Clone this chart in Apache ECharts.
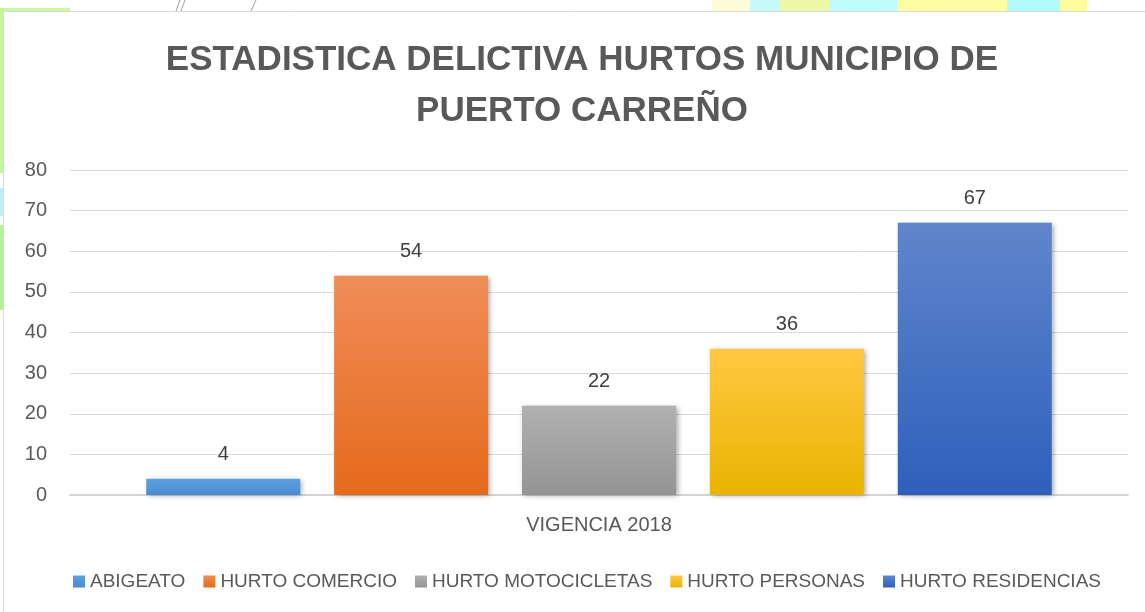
<!DOCTYPE html>
<html>

<head>
	<meta charset="utf-8">
	<title>Estadistica delictiva hurtos</title>
	<script src="https://cdn.jsdelivr.net/npm/echarts@6/dist/echarts.min.js"></script>
	<style>
		html, body { margin: 0; padding: 0; background: #fff; }
	</style>
</head>

<body>
	<div id="main" style="width: 1145px;height:612px;"></div>

	<script type="text/javascript">
		var categorias = ['VIGENCIA 2018'];
		var delitos = ['ABIGEATO', 'HURTO COMERCIO', 'HURTO MOTOCICLETAS', 'HURTO PERSONAS', 'HURTO RESIDENCIAS'];
		var valores = [4, 54, 22, 36, 67];
		var ejeY = [0, 10, 20, 30, 40, 50, 60, 70, 80];

		// colores arriba / abajo de cada barra (degradado)
		var coloresArriba = ['#5EA2DF', '#F08D58', '#B1B1B1', '#FFC843', '#6085CC'];
		var coloresAbajo = ['#4A8AD0', '#E56A1C', '#949494', '#E9B400', '#2E60BB'];
		var coloresLeyenda = ['#5597D8', '#EE7A2D', '#A3A3A3', '#FDC010', '#4470C4'];

		var myChart = echarts.init(document.getElementById('main'));

		var series = delitos.map(function (nombre, i) {
			return {
				name: nombre,
				type: 'bar',
				barWidth: 154,
				barGap: '22%',
				data: [valores[i]],
				itemStyle: {
					color: new echarts.graphic.LinearGradient(0, 0, 0, 1, [
						{ offset: 0, color: coloresArriba[i] },
						{ offset: 1, color: coloresAbajo[i] }
					]),
					shadowColor: 'rgba(0,0,0,0.35)',
					shadowBlur: 5,
					shadowOffsetX: 2,
					shadowOffsetY: 1
				},
				label: {
					show: true,
					position: 'top',
					distance: 14,
					color: '#404040',
					fontSize: 20,
					fontFamily: 'Liberation Sans'
				}
			};
		});

		var option = {
			animation: false,
			backgroundColor: '#fff',
			color: coloresLeyenda,
			title: {
				text: 'ESTADISTICA DELICTIVA HURTOS MUNICIPIO DE\nPUERTO CARREÑO',
				left: 582,
				textAlign: 'center',
				top: 35,
				padding: 0,
				textStyle: {
					color: '#595959',
					fontSize: 35,
					fontWeight: 'bold',
					fontFamily: 'Liberation Sans',
					lineHeight: 51
				}
			},
			graphic: [
				// fondo decorativo fuera del recuadro del grafico
				{ type: 'rect', z: -10, shape: { x: 712, y: 0, width: 40, height: 12 }, style: { fill: '#FDFDD8' } },
				{ type: 'rect', z: -10, shape: { x: 750, y: 0, width: 32, height: 12 }, style: { fill: '#C4FAFA' } },
				{ type: 'rect', z: -10, shape: { x: 780, y: 0, width: 50, height: 12 }, style: { fill: '#EEF9A8' } },
				{ type: 'rect', z: -10, shape: { x: 830, y: 0, width: 67, height: 12 }, style: { fill: '#BDFCFC' } },
				{ type: 'rect', z: -10, shape: { x: 897, y: 0, width: 110, height: 12 }, style: { fill: '#FDFDA4' } },
				{ type: 'rect', z: -10, shape: { x: 1007, y: 0, width: 53, height: 12 }, style: { fill: '#B2FBFB' } },
				{ type: 'rect', z: -10, shape: { x: 1060, y: 0, width: 27, height: 12 }, style: { fill: '#FDFD9C' } },
				{ type: 'rect', z: -10, shape: { x: 0, y: 8, width: 70, height: 4 }, style: { fill: '#CDF5A8' } },
				{ type: 'rect', z: -10, shape: { x: 0, y: 8, width: 4, height: 165 }, style: { fill: '#C6F5A0' } },
				{ type: 'rect', z: -10, shape: { x: 0, y: 188, width: 4, height: 28 }, style: { fill: '#C0EEF8' } },
				{ type: 'rect', z: -10, shape: { x: 0, y: 225, width: 4, height: 85 }, style: { fill: '#B8F09A' } },
				{ type: 'line', z: -10, shape: { x1: 176, y1: 11, x2: 180, y2: 0 }, style: { stroke: '#A0A0A0', lineWidth: 1 } },
				{ type: 'line', z: -10, shape: { x1: 181, y1: 11, x2: 185, y2: 0 }, style: { stroke: '#A0A0A0', lineWidth: 1 } },
				{ type: 'line', z: -10, shape: { x1: 251, y1: 11, x2: 256, y2: 0 }, style: { stroke: '#A0A0A0', lineWidth: 1 } },
				// recuadro del grafico
				{ type: 'rect', z: -5, shape: { x: 3.5, y: 11.5, width: 1160, height: 620 }, style: { fill: '#fff', stroke: '#D9D9D9', lineWidth: 1 } }
			],
			legend: {
				data: delitos,
				left: 68,
				top: 567,
				itemWidth: 12,
				itemHeight: 12,
				itemGap: 18,
				icon: 'rect',
				textStyle: {
					color: '#595959',
					fontSize: 19,
					fontFamily: 'Liberation Sans'
				}
			},
			grid: {
				left: 70,
				right: 17,
				top: 170,
				bottom: 117,
				containLabel: false
			},
			xAxis: [{
				type: 'category',
				data: categorias,
				axisTick: { show: false },
				axisLine: {
					lineStyle: { color: '#D4D4D4', width: 2 }
				},
				axisLabel: {
					color: '#595959',
					fontSize: 20,
					fontFamily: 'Liberation Sans',
					margin: 20
				}
			}],
			yAxis: [{
				type: 'value',
				min: ejeY[0],
				max: ejeY[ejeY.length - 1],
				interval: 10,
				axisLine: { show: false },
				axisTick: { show: false },
				splitLine: {
					lineStyle: { color: '#D9D9D9', width: 1 }
				},
				axisLabel: {
					color: '#595959',
					fontSize: 20,
					fontFamily: 'Liberation Sans',
					margin: 23
				}
			}],
			series: series
		};

		myChart.setOption(option);
	</script>
</body>

</html>
